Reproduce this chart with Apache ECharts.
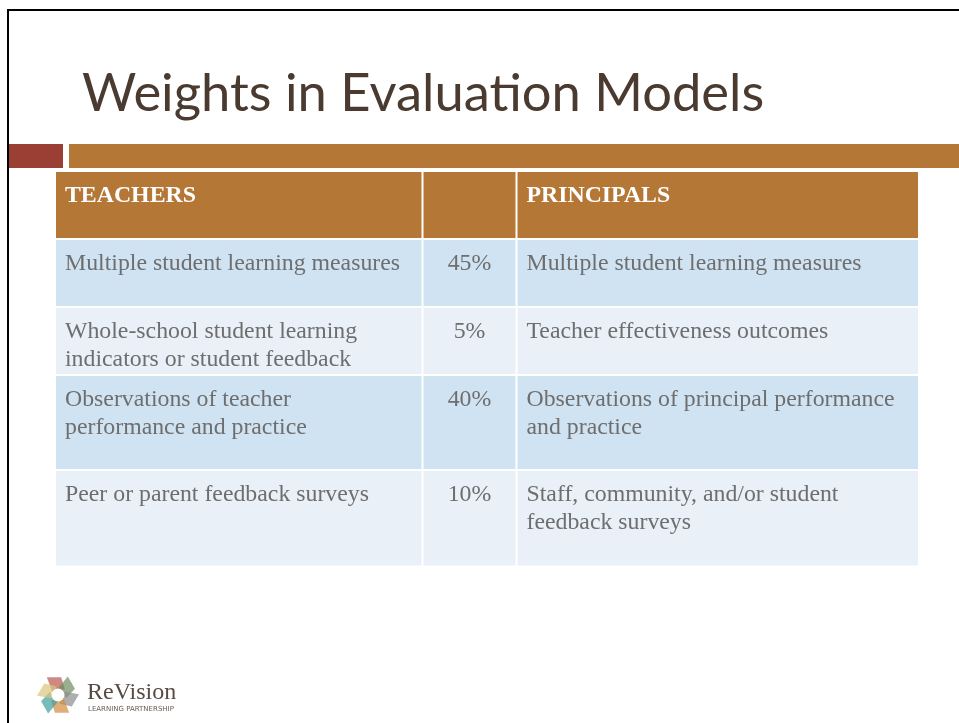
<!DOCTYPE html>
<html>
<head>
<meta charset="utf-8">
<script src="https://cdn.jsdelivr.net/npm/echarts@6/dist/echarts.min.js"></script>
<style>
  html, body { margin: 0; padding: 0; background: #ffffff; }
  #chart { width: 959px; height: 723px; }
</style>
</head>
<body>
<div id="chart"></div>
<script>
// ---- data ----
var titleText = 'Weights in Evaluation Models';
var headers = ['TEACHERS', '', 'PRINCIPALS'];
var teacherMeasures = [
  'Multiple student learning measures',
  'Whole-school student learning\nindicators or student feedback',
  'Observations of teacher\nperformance and practice',
  'Peer or parent feedback surveys'
];
var weights = ['45%', '5%', '40%', '10%'];
var principalMeasures = [
  'Multiple student learning measures',
  'Teacher effectiveness outcomes',
  'Observations of principal performance\nand practice',
  'Staff, community, and/or student\nfeedback surveys'
];
var logoName = 'ReVision';
var logoSub = 'LEARNING PARTNERSHIP';

// ---- layout (pixel units inside the table grid) ----
var colSpans = [[0, 365.5], [367.5, 459.5], [461.5, 862]];
var rowSpans = [[0, 66], [68, 134], [136, 202], [204, 297], [299, 393.5]];
var headerFill = '#B47736';
var rowFills = ['#D0E3F2', '#E9F0F8'];

var tableRows = [headers];
for (var i = 0; i < teacherMeasures.length; i++) {
  tableRows.push([teacherMeasures[i], weights[i], principalMeasures[i]]);
}
var cells = [];
var cellTexts = [];
tableRows.forEach(function (row, r) {
  row.forEach(function (t, c) {
    cells.push([c, r]);
    cellTexts.push(t);
  });
});

var chart = echarts.init(document.getElementById('chart'), null, { renderer: 'canvas' });

function renderCell(params, api) {
  var c = api.value(0), r = api.value(1);
  var cs = colSpans[c], rs = rowSpans[r];
  var p0 = api.coord([cs[0], rs[0]]);
  var p1 = api.coord([cs[1], rs[1]]);
  var isHeader = r === 0;
  var fill = isHeader ? headerFill : rowFills[(r - 1) % 2];
  var text = cellTexts[params.dataIndex];
  var centered = c === 1;
  return {
    type: 'group',
    children: [
      {
        type: 'rect',
        shape: { x: p0[0], y: p0[1], width: p1[0] - p0[0], height: p1[1] - p0[1] },
        style: { fill: fill }
      },
      {
        type: 'text',
        style: {
          text: text,
          x: centered ? (p0[0] + p1[0]) / 2 : p0[0] + 9,
          y: p0[1] + 10,
          align: centered ? 'center' : 'left',
          verticalAlign: 'top',
          fontFamily: '"Liberation Serif", "Times New Roman", serif',
          fontSize: 23.8,
          lineHeight: 28,
          fontWeight: isHeader ? 'bold' : 'normal',
          fill: isHeader ? '#ffffff' : '#6e6e6e'
        }
      }
    ]
  };
}

// logo petals
var logoCx = 58, logoCy = 695;
var petalColors = ['#B9574E', '#6F8C62', '#8C8C8C', '#D38B3C', '#3F9E9B', '#DCC47E'];
var petals = [];
petalColors.forEach(function (col, k) {
  var base = -130 + k * 60;
  function pt(r, deg) {
    var a = deg * Math.PI / 180;
    return [logoCx + r * Math.cos(a), logoCy + r * Math.sin(a)];
  }
  petals.push({
    type: 'polygon',
    shape: { points: [pt(6, base - 25), pt(21, base + 8), pt(18, base + 50), pt(9, base + 90)] },
    style: { fill: col, opacity: 0.7 },
    z: 10
  });
});
petals.push({ type: 'circle', shape: { cx: logoCx, cy: logoCy, r: 6.5 }, style: { fill: '#ffffff' }, z: 11 });

var option = {
  backgroundColor: '#ffffff',
  animation: false,
  title: {
    text: titleText,
    left: 77,
    top: 63,
    textStyle: {
      fontFamily: 'Lato, "Noto Sans", sans-serif',
      fontWeight: 'normal',
      fontSize: 52.5,
      color: '#4A3A30'
    }
  },
  grid: { left: 56, top: 172, width: 862, height: 393.5 },
  xAxis: { type: 'value', min: 0, max: 862, show: false },
  yAxis: { type: 'value', min: 0, max: 393.5, inverse: true, show: false },
  series: [{
    type: 'custom',
    renderItem: renderCell,
    data: cells,
    clip: false
  }],
  graphic: [
    // slide frame
    { type: 'line', shape: { x1: 7, y1: 10, x2: 959, y2: 10 }, style: { stroke: '#000000', lineWidth: 2 } },
    { type: 'line', shape: { x1: 8, y1: 10, x2: 8, y2: 723 }, style: { stroke: '#000000', lineWidth: 2 } },
    // decorative bars
    { type: 'rect', shape: { x: 9, y: 144, width: 54, height: 24 }, style: { fill: '#9B3E33' } },
    { type: 'rect', shape: { x: 69, y: 144, width: 890, height: 24 }, style: { fill: '#B47736' } },
    // logo
    { type: 'group', children: petals },
    { type: 'text', style: { text: logoName, x: 87, y: 681, verticalAlign: 'top', fontFamily: '"Liberation Serif", serif', fontSize: 24, fill: '#5A4A43' } },
    { type: 'text', style: { text: logoSub, x: 88, y: 705.5, verticalAlign: 'top', fontFamily: '"DejaVu Sans", sans-serif', fontSize: 7, fill: '#6a5a53' } }
  ]
};
chart.setOption(option);
</script>
</body>
</html>
